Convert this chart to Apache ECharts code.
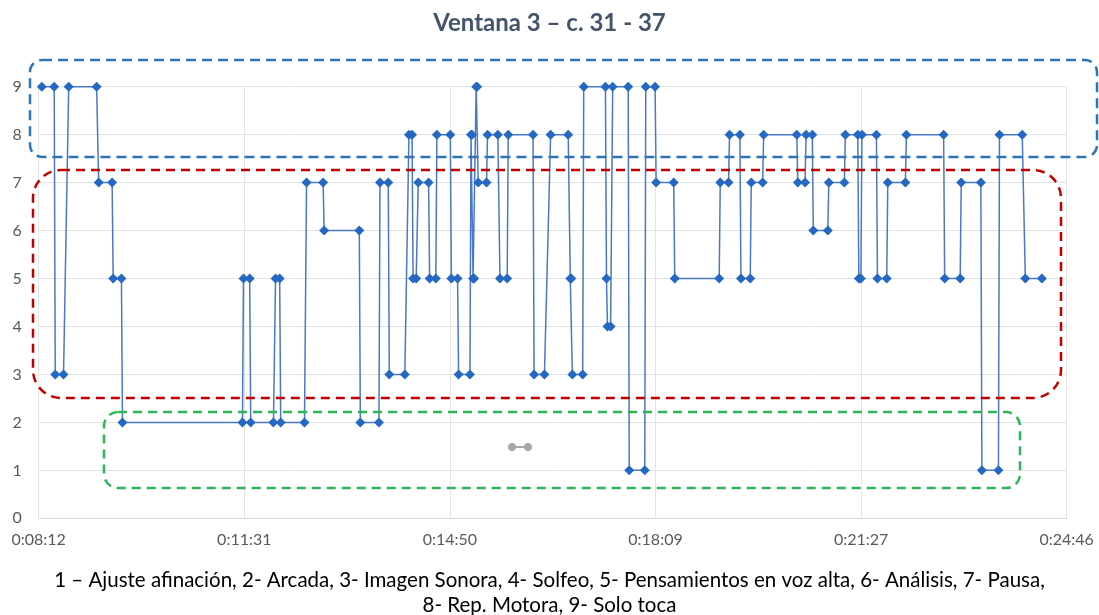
<!DOCTYPE html>
<html><head><meta charset="utf-8">
<script src="https://cdn.jsdelivr.net/npm/echarts@6/dist/echarts.min.js"></script>
<style>html,body{margin:0;padding:0;background:#fff}#c{width:1099px;height:615px}</style>
</head><body><div id="c"></div>
<script>
const chartTitle = 'Ventana 3 – c. 31 - 37';
const captionLines = ['1 – Ajuste afinación, 2- Arcada, 3- Imagen Sonora, 4- Solfeo, 5- Pensamientos en voz alta, 6- Análisis, 7- Pausa,', '8- Rep. Motora, 9- Solo toca'];
const xTickLabels = ['0:08:12', '0:11:31', '0:14:50', '0:18:09', '0:21:27', '0:24:46'];
const yMin = 0, yMax = 9;
const times = ['0:08:15','0:08:27','0:08:28','0:08:36','0:08:41','0:09:08','0:09:10','0:09:23','0:09:24','0:09:32','0:09:33',
 '0:11:29','0:11:30','0:11:36','0:11:37','0:11:59','0:12:01','0:12:05','0:12:06','0:12:29','0:12:31','0:12:47','0:12:48',
 '0:13:22','0:13:23','0:13:41','0:13:42','0:13:50','0:13:51','0:14:06','0:14:10','0:14:13','0:14:14','0:14:17','0:14:19',
 '0:14:29','0:14:30','0:14:36','0:14:37','0:14:50','0:14:51','0:14:57','0:14:58','0:15:09','0:15:10','0:15:11','0:15:12',
 '0:15:13','0:15:15','0:15:16','0:15:17','0:15:25','0:15:26','0:15:36','0:15:38','0:15:45','0:15:46','0:16:10','0:16:11',
 '0:16:21','0:16:27','0:16:44','0:16:46','0:16:47','0:16:48','0:16:58','0:16:59','0:17:20','0:17:21','0:17:22','0:17:25',
 '0:17:27','0:17:42','0:17:43','0:17:58','0:17:59','0:18:08','0:18:09','0:18:26','0:18:27','0:19:10','0:19:11','0:19:19',
 '0:19:20','0:19:30','0:19:31','0:19:40','0:19:41','0:19:52','0:19:53','0:20:25','0:20:26','0:20:33','0:20:34','0:20:40',
 '0:20:41','0:20:55','0:20:56','0:21:11','0:21:12','0:21:24','0:21:25','0:21:27','0:21:28','0:21:42','0:21:43','0:21:52',
 '0:21:53','0:22:10','0:22:11','0:22:47','0:22:48','0:23:03','0:23:04','0:23:23','0:23:24','0:23:40','0:23:41','0:24:03',
 '0:24:06','0:24:22'];
const codes = [9,9,3,3,9,9,7,7,5,5,2,
 2,5,5,2,2,5,5,2,2,7,7,6,
 6,2,2,7,7,3,3,8,8,5,5,7,
 7,5,5,8,8,5,5,3,3,8,8,5,
 5,9,9,7,7,8,8,5,5,8,8,3,
 3,8,8,5,5,3,3,9,9,5,4,4,
 9,9,1,1,9,9,7,7,5,5,7,7,
 8,8,5,5,7,7,8,8,7,7,8,8,
 6,6,7,7,8,8,5,5,8,8,5,5,
 7,7,8,8,5,5,7,7,1,1,8,8,
 5,5];

function toSec(s){const p=s.split(':').map(Number);return p[0]*3600+p[1]*60+p[2];}
const x0 = toSec(xTickLabels[0]);
const span = toSec(xTickLabels[xTickLabels.length-1]) - x0;
const step = span/(xTickLabels.length-1);
const seriesData = times.map((t,i)=>[toSec(t)-x0, codes[i]]);

const FONT = 'Lato, sans-serif';
const chart = echarts.init(document.getElementById('c'), null, {renderer:'canvas'});
chart.setOption({
  animation:false,
  backgroundColor:'#fff',
  title:[
    {text:chartTitle, left:'center', top:6, textStyle:{fontFamily:FONT, fontWeight:'bold', fontSize:24, color:'#44546A'}},
    {text:captionLines[0], left:'center', top:565, textStyle:{fontFamily:FONT, fontWeight:'normal', fontSize:20.5, color:'#000'}},
    {text:captionLines[1], left:'center', top:590, textStyle:{fontFamily:FONT, fontWeight:'normal', fontSize:20.5, color:'#000'}}
  ],
  grid:{left:38.7, right:32.3, top:86.7, bottom:96.7, containLabel:false},
  xAxis:{type:'value', min:0, max:span, interval:step,
    axisLine:{show:true, lineStyle:{color:'#D9D9D9', width:1}}, axisTick:{show:false},
    splitLine:{show:true, lineStyle:{color:'#E3E3E3', width:1}},
    axisLabel:{margin:14, color:'#595959', fontFamily:FONT, fontSize:16,
      formatter:(v)=>xTickLabels[Math.round(v/step)]}},
  yAxis:{type:'value', min:yMin, max:yMax, interval:1,
    axisLine:{show:false}, axisTick:{show:false},
    splitLine:{show:true, lineStyle:{color:'#E3E3E3', width:1}},
    axisLabel:{margin:17, color:'#595959', fontFamily:FONT, fontSize:16}},
  series:[{type:'line', data:seriesData, symbol:'diamond', symbolSize:10, showSymbol:true,
    lineStyle:{color:'#4A78C8', width:1.5}, itemStyle:{color:'#2468C4'}, z:3}],
  graphic:[
    {type:'rect', z:10, shape:{x:30, y:60, width:1067, height:97, r:12}, style:{fill:'none', stroke:'#2E75B6', lineWidth:2.5, lineDash:[10,6]}},
    {type:'rect', z:10, shape:{x:33, y:170, width:1028, height:228, r:28}, style:{fill:'none', stroke:'#C00000', lineWidth:2.5, lineDash:[9,6]}},
    {type:'rect', z:10, shape:{x:104, y:412, width:916, height:76, r:14}, style:{fill:'none', stroke:'#2FB457', lineWidth:2.5, lineDash:[9,6]}},
    {type:'line', z:10, shape:{x1:512, y1:447, x2:528, y2:447}, style:{stroke:'#A6A6A6', lineWidth:2}},
    {type:'circle', z:10, shape:{cx:512, cy:447, r:4}, style:{fill:'#A6A6A6'}},
    {type:'circle', z:10, shape:{cx:528, cy:447, r:4}, style:{fill:'#A6A6A6'}}
  ]
});
</script></body></html>
